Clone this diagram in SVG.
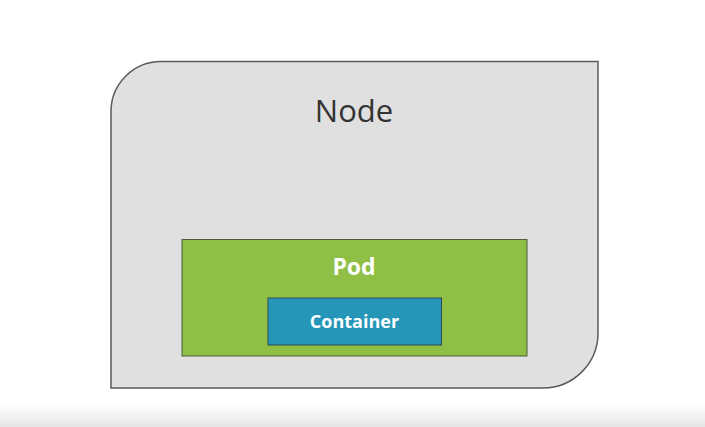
<svg xmlns="http://www.w3.org/2000/svg" width="705" height="427" viewBox="0 0 705 427">
<defs>
<linearGradient id="band" x1="0" y1="0" x2="0" y2="1">
<stop offset="0" stop-color="#ffffff"/>
<stop offset="1" stop-color="#e6e6e6"/>
</linearGradient>
<style>
.lbl{font-family:"Open Sans","Liberation Sans",sans-serif;text-anchor:middle;dominant-baseline:central}
</style>
</defs>
<rect width="705" height="427" fill="#ffffff"/>
<rect x="0" y="403" width="705" height="24" fill="url(#band)"/>
<g id="node">
<path d="M111,388 L111,111 A50,50 0 0 1 161,61.5 L598,61.5 L598,333 A55,55 0 0 1 543,388 Z" fill="#e0e0e0" stroke="#5a5a5a" stroke-width="1.5"/>
<text class="lbl" x="354" y="110" font-size="31" fill="#333333">Node</text>
</g>
<g id="pod">
<rect x="182" y="239.5" width="345" height="116.5" fill="#8fc045" stroke="#4a5a3a" stroke-width="1"/>
<text class="lbl" x="354" y="266" font-size="23" font-weight="bold" fill="#ffffff">Pod</text>
</g>
<g id="container">
<rect x="268" y="298" width="173.5" height="47" fill="#2596b8" stroke="#2f4a55" stroke-width="1"/>
<text class="lbl" x="354.5" y="321" font-size="18" font-weight="bold" fill="#ffffff">Container</text>
</g>
<g id="connectors"/>
</svg>
